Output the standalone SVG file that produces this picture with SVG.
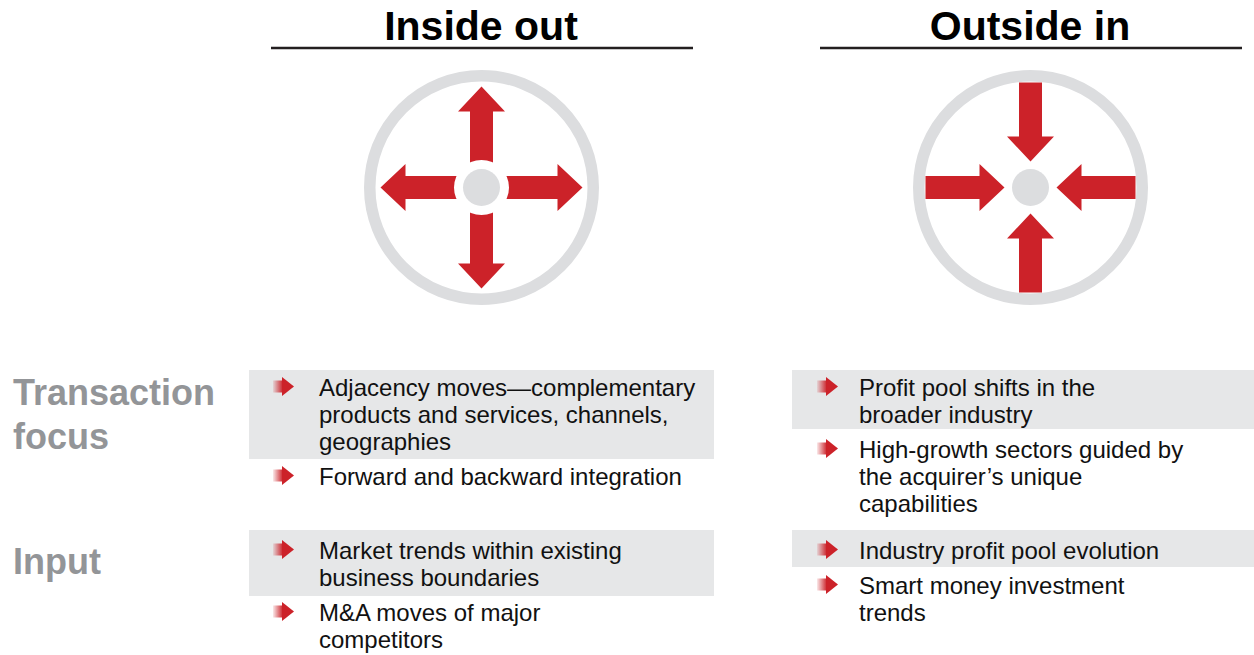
<svg xmlns="http://www.w3.org/2000/svg" width="1254" height="655" viewBox="0 0 1254 655">
<style>
.hdr{font-family:"Liberation Sans",Arial,sans-serif;font-weight:bold;font-size:41px;fill:#000;text-anchor:middle}
.lbl{font-family:"Liberation Sans",Arial,sans-serif;font-weight:bold;font-size:36px;fill:#939598}
.txt{font-family:"Liberation Sans",Arial,sans-serif;font-size:24px;fill:#111}
.box{fill:#e6e7e8}
.ring{fill:none;stroke:#dcdddf;stroke-width:11.5}
.red{fill:#cc2229}
.dot{fill:#dcdddf}
.rule{stroke:#231f20;stroke-width:2.6}
</style>
<defs>
<linearGradient id="fade" x1="0" y1="0" x2="1" y2="0">
<stop offset="0" stop-color="#cc2229" stop-opacity="0.1"/>
<stop offset="1" stop-color="#cc2229" stop-opacity="1"/>
</linearGradient>
<g id="bullet">
<rect x="-21" y="-6" width="10" height="12" fill="url(#fade)"/>
<polygon points="-12,-9.5 0,0 -12,9.5" fill="#cc2229"/>
</g>
<path id="outArrow" d="M0,-11.5 H76 V-23.5 L101,0 L76,23.5 V11.5 H0 Z"/>
<path id="inArrow" d="M105,-11.5 H51 V-23.5 L26,0 L51,23.5 V11.5 H105 Z"/>
</defs>
<rect width="1254" height="655" fill="#fff"/>

<g id="header-inside-out">
<text class="hdr" x="481" y="40">Inside out</text>
<line class="rule" x1="271" y1="48" x2="693" y2="48"/>
</g>
<g id="header-outside-in">
<text class="hdr" x="1030" y="40">Outside in</text>
<line class="rule" x1="820" y1="48" x2="1242" y2="48"/>
</g>

<g id="icon-inside-out" transform="translate(481.5,187.5)">
<circle class="ring" r="111.75"/>
<use href="#outArrow" class="red"/>
<use href="#outArrow" class="red" transform="rotate(90)"/>
<use href="#outArrow" class="red" transform="rotate(180)"/>
<use href="#outArrow" class="red" transform="rotate(270)"/>
<circle r="27.5" fill="#fff"/>
<circle class="dot" r="18.5"/>
</g>

<g id="icon-outside-in" transform="translate(1030.5,187.5)">
<circle class="ring" r="111.75"/>
<use href="#inArrow" class="red"/>
<use href="#inArrow" class="red" transform="rotate(90)"/>
<use href="#inArrow" class="red" transform="rotate(180)"/>
<use href="#inArrow" class="red" transform="rotate(270)"/>
<circle class="dot" r="18.5"/>
</g>

<g id="label-transaction-focus">
<text class="lbl" x="13" y="405">Transaction</text>
<text class="lbl" x="13" y="449">focus</text>
</g>
<g id="label-input">
<text class="lbl" x="13" y="574">Input</text>
</g>

<g id="tf-inside-1">
<rect class="box" x="249" y="370" width="465" height="89"/>
<use href="#bullet" x="294" y="386.5"/>
<text class="txt" x="319" y="396">Adjacency moves—complementary</text>
<text class="txt" x="319" y="423">products and services, channels,</text>
<text class="txt" x="319" y="450">geographies</text>
</g>
<g id="tf-inside-2">
<use href="#bullet" x="294" y="475.5"/>
<text class="txt" x="319" y="485">Forward and backward integration</text>
</g>

<g id="tf-outside-1">
<rect class="box" x="792" y="370" width="462" height="59"/>
<use href="#bullet" x="838" y="386.5"/>
<text class="txt" x="859" y="396">Profit pool shifts in the</text>
<text class="txt" x="859" y="423">broader industry</text>
</g>
<g id="tf-outside-2">
<use href="#bullet" x="838" y="448.5"/>
<text class="txt" x="859" y="458">High-growth sectors guided by</text>
<text class="txt" x="859" y="485">the acquirer’s unique</text>
<text class="txt" x="859" y="512">capabilities</text>
</g>

<g id="in-inside-1">
<rect class="box" x="249" y="530" width="465" height="66"/>
<use href="#bullet" x="294" y="549.5"/>
<text class="txt" x="319" y="559">Market trends within existing</text>
<text class="txt" x="319" y="586">business boundaries</text>
</g>
<g id="in-inside-2">
<use href="#bullet" x="294" y="611.5"/>
<text class="txt" x="319" y="621">M&amp;A moves of major</text>
<text class="txt" x="319" y="648">competitors</text>
</g>

<g id="in-outside-1">
<rect class="box" x="792" y="530" width="462" height="37"/>
<use href="#bullet" x="838" y="549.5"/>
<text class="txt" x="859" y="559">Industry profit pool evolution</text>
</g>
<g id="in-outside-2">
<use href="#bullet" x="838" y="584.5"/>
<text class="txt" x="859" y="594">Smart money investment</text>
<text class="txt" x="859" y="621">trends</text>
</g>

<g id="connectors"></g>
</svg>
